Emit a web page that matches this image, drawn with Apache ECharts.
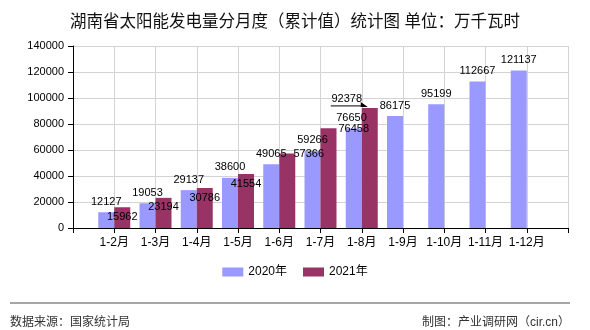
<!DOCTYPE html>
<html>
<head>
<meta charset="utf-8">
<script src="https://cdn.jsdelivr.net/npm/echarts@6/dist/echarts.min.js"></script>
<style>html,body{margin:0;padding:0;background:#fff}#c{width:590px;height:330px}</style>
</head>
<body>
<div id="c"></div>
<script>
// ---- data ----
const categories = ['1-2月','1-3月','1-4月','1-5月','1-6月','1-7月','1-8月','1-9月','1-10月','1-11月','1-12月'];
const values2020 = [12127,19053,29137,38600,49065,59266,76458,86175,95199,112667,121137];
const values2021 = [15962,23194,30786,41554,57366,76650,92378];
const seriesNames = ['2020年','2021年'];
const yMin = 0, yMax = 140000, yStep = 20000;

// ---- styling (label nudges only, not data) ----
const FONT = "'Liberation Sans','Noto Sans CJK SC',sans-serif";
// keyed by index into categories
const nudge2020 = {6: [0, 10.5]};
const nudge2021 = {0: [0, 20], 1: [0, 20], 2: [0, 20], 3: [0, 20], 4: [21.5, 11.5], 5: [23, 0], 6: [-23, 2]};
const leaderIndex2021 = 6;

const xData = [''].concat(categories, ['']);
function pad(arr) {
  const out = [null];
  for (let i = 0; i < categories.length; i++) out.push(i < arr.length ? arr[i] : null);
  out.push(null);
  return out;
}
function layoutFrom(nudges) {
  return function (p) {
    const n = nudges[p.dataIndex - 1];
    return n ? {dx: n[0], dy: n[1]} : {};
  };
}

const chart = echarts.init(document.getElementById('c'), null, {renderer: 'canvas'});
const baseGraphic = [
  {type: 'line', shape: {x1: 10, y1: 303, x2: 570, y2: 303}, style: {stroke: '#888', lineWidth: 1.5}},
  {type: 'text', left: 10, top: 317, style: {text: '数据来源：国家统计局', fill: '#333', font: "12px " + FONT}},
  {type: 'text', right: 20, top: 317, style: {text: '制图：产业调研网（cir.cn）', fill: '#333', font: "12px " + FONT}}
];
chart.setOption({
  animation: false,
  backgroundColor: '#fff',
  textStyle: {fontFamily: FONT},
  title: {
    text: '湖南省太阳能发电量分月度（累计值）统计图 单位：万千瓦时',
    left: 'center', top: 9,
    textStyle: {fontSize: 16.5, fontWeight: 'normal', color: '#111', fontFamily: FONT}
  },
  legend: {
    bottom: 47, left: 'center',
    itemWidth: 21, itemHeight: 9, itemGap: 16, icon: 'rect',
    textStyle: {fontSize: 12, color: '#000', fontFamily: FONT},
    data: seriesNames
  },
  grid: {left: 73, right: 22, top: 46, bottom: 102},
  xAxis: {
    type: 'category', data: xData, boundaryGap: false,
    axisLine: {lineStyle: {color: '#000'}},
    axisTick: {show: true, interval: 0, length: 5, lineStyle: {color: '#000'}},
    axisLabel: {interval: 0, color: '#000', fontSize: 12, margin: 9, fontFamily: FONT},
    splitLine: {show: true, interval: 0, lineStyle: {color: '#d3d3d3'}}
  },
  yAxis: {
    type: 'value', min: yMin, max: yMax, interval: yStep,
    axisLine: {show: true, lineStyle: {color: '#000'}},
    axisTick: {show: true, length: 5, lineStyle: {color: '#000'}},
    axisLabel: {color: '#000', fontSize: 11, margin: 9, fontFamily: FONT, formatter: function (v) { return String(v); }},
    splitLine: {show: true, lineStyle: {color: '#d3d3d3'}}
  },
  series: [
    {
      name: seriesNames[0], type: 'bar', barWidth: 16, barGap: '0%',
      itemStyle: {color: '#9999FF'},
      label: {show: true, position: 'top', color: '#000', fontSize: 11, fontFamily: FONT},
      labelLayout: layoutFrom(nudge2020),
      data: pad(values2020)
    },
    {
      name: seriesNames[1], type: 'bar', barWidth: 16, barGap: '0%',
      itemStyle: {color: '#993366'},
      label: {show: true, position: 'top', color: '#000', fontSize: 11, fontFamily: FONT},
      labelLayout: layoutFrom(nudge2021),
      data: pad(values2021)
    }
  ],
  graphic: baseGraphic
});

// leader line under the moved 92378 label, positioned through the chart's own scales
const tip = chart.convertToPixel({seriesIndex: 1}, [leaderIndex2021 + 1, values2021[leaderIndex2021]]);
const ly = tip[1] - 2;
chart.setOption({
  graphic: baseGraphic.concat([
    {type: 'line', shape: {x1: tip[0] - 31, y1: ly, x2: tip[0], y2: ly}, style: {stroke: '#000', lineWidth: 1}, z: 100},
    {type: 'polygon', shape: {points: [[tip[0] - 1, ly - 4], [tip[0] + 6, ly + 1], [tip[0] - 1, ly + 1]]}, style: {fill: '#000'}, z: 100}
  ])
});
</script>
</body>
</html>
